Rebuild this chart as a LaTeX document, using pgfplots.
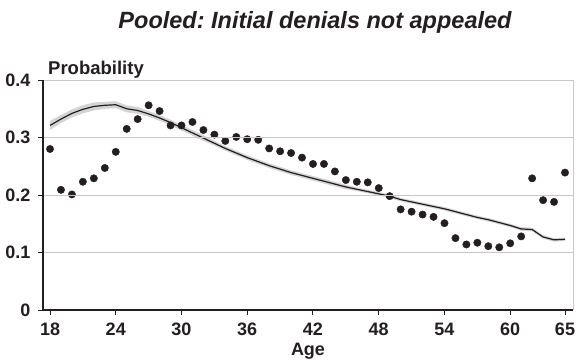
\documentclass[border=0pt]{standalone}
\usepackage{pgfplots}
\pgfplotsset{compat=1.18}
\usepgfplotslibrary{fillbetween}
\usepackage{fontspec}
\setmainfont{Liberation Sans}
\definecolor{ink}{HTML}{231F20}
\definecolor{gridgray}{HTML}{C8C8C8}
\definecolor{bandgray}{HTML}{D4D4D4}

% Observed share of initial denials not appealed, by age
\pgfplotstableread{
age p
18 0.280
19 0.209
20 0.201
21 0.223
22 0.229
23 0.247
24 0.275
25 0.315
26 0.332
27 0.356
28 0.346
29 0.321
30 0.321
31 0.327
32 0.313
33 0.305
34 0.294
35 0.301
36 0.297
37 0.296
38 0.281
39 0.276
40 0.273
41 0.265
42 0.254
43 0.254
44 0.241
45 0.226
46 0.223
47 0.222
48 0.212
49 0.198
50 0.175
51 0.171
52 0.166
53 0.162
54 0.151
55 0.125
56 0.114
57 0.117
58 0.111
59 0.109
60 0.116
61 0.128
62 0.229
63 0.191
64 0.188
65 0.239
}\observed

% Model prediction with its confidence band
\pgfplotstableread{
age p lo hi
18 0.321 0.313 0.329
19 0.332 0.325 0.339
20 0.342 0.335 0.349
21 0.349 0.342 0.356
22 0.354 0.347 0.361
23 0.356 0.350 0.362
24 0.357 0.351 0.363
25 0.350 0.344 0.356
26 0.347 0.341 0.353
27 0.341 0.336 0.346
28 0.334 0.329 0.339
29 0.326 0.321 0.331
30 0.317 0.312 0.322
31 0.308 0.303 0.313
32 0.299 0.294 0.304
33 0.290 0.286 0.294
34 0.281 0.277 0.285
35 0.273 0.269 0.277
36 0.265 0.261 0.269
37 0.258 0.254 0.262
38 0.251 0.247 0.255
39 0.245 0.241 0.249
40 0.239 0.235 0.243
41 0.234 0.230 0.238
42 0.229 0.225 0.233
43 0.224 0.220 0.228
44 0.219 0.215 0.223
45 0.214 0.210 0.218
46 0.210 0.207 0.213
47 0.206 0.203 0.209
48 0.202 0.199 0.205
49 0.198 0.195 0.201
50 0.192 0.189 0.195
51 0.188 0.185 0.191
52 0.184 0.181 0.187
53 0.180 0.177 0.183
54 0.176 0.173 0.179
55 0.171 0.168 0.174
56 0.166 0.163 0.169
57 0.161 0.158 0.164
58 0.157 0.154 0.160
59 0.152 0.149 0.155
60 0.147 0.144 0.150
61 0.141 0.138 0.144
62 0.140 0.137 0.143
63 0.127 0.124 0.130
64 0.122 0.119 0.125
65 0.123 0.120 0.126
}\model

\begin{document}
\begin{tikzpicture}
\begin{axis}[
  name=ax,
  at={(0pt,0pt)}, anchor=south west,
  scale only axis,
  width=530pt, height=230pt,
  xmin=17.36, xmax=65.73,
  ymin=0, ymax=0.4,
  xtick={18,24,30,36,42,48,54,60,65},
  ytick={0,0.1,0.2,0.3,0.4},
  yticklabels={0,0.1,0.2,0.3,0.4},
  axis lines*=left,
  x axis line style={ink, line width=2.2pt},
  y axis line style={ink, line width=2.2pt},
  tick style={ink, line width=1pt},
  tick align=outside,
  major tick length=4.5pt,
  ymajorgrids,
  major grid style={gridgray, line width=1pt},
  axis on top,
  /pgf/number format/assume math mode=true,
  ticklabel style={font=\fontsize{18}{18}\selectfont\bfseries, text=ink},
  yticklabel style={anchor=east, inner sep=0pt, xshift=-8pt},
  xticklabel style={anchor=north, inner sep=0pt, yshift=-8pt},
  clip=false,
]
  \addplot[name path=hi, draw=none, forget plot] table[x=age, y=hi] {\model};
  \addplot[name path=lo, draw=none, forget plot] table[x=age, y=lo] {\model};
  \addplot[bandgray, draw=none] fill between[of=hi and lo];
  \addplot[ink, line width=1.2pt] table[x=age, y=p] {\model};
  \addplot[only marks, mark=*, mark size=3.7pt, ink] table[x=age, y=p] {\observed};
  % light frame on the right
  \draw[gridgray, line width=1pt] (rel axis cs:1,0) -- (rel axis cs:1,1);
  \node[anchor=base west, font=\fontsize{18.5}{19}\selectfont\bfseries, text=ink, inner sep=0pt]
    at ([xshift=5pt, yshift=6pt]rel axis cs:0,1) {Probability};
  \node[anchor=base, font=\fontsize{18}{18}\selectfont\bfseries, text=ink, inner sep=0pt]
    at ([yshift=-45pt]rel axis cs:0.5,0) {Age};
\end{axis}
% heavy frame on the left
\draw[ink, line width=2.4pt] (ax.south west) -- (ax.north west);
\node[anchor=base, font=\fontsize{23.5}{24}\selectfont\bfseries\itshape, text=ink, inner sep=0pt]
  at (272pt,281pt) {Pooled:\ Initial denials not appealed};
\path (-43pt,-52pt) rectangle (534pt,310pt);
\end{tikzpicture}
\end{document}
